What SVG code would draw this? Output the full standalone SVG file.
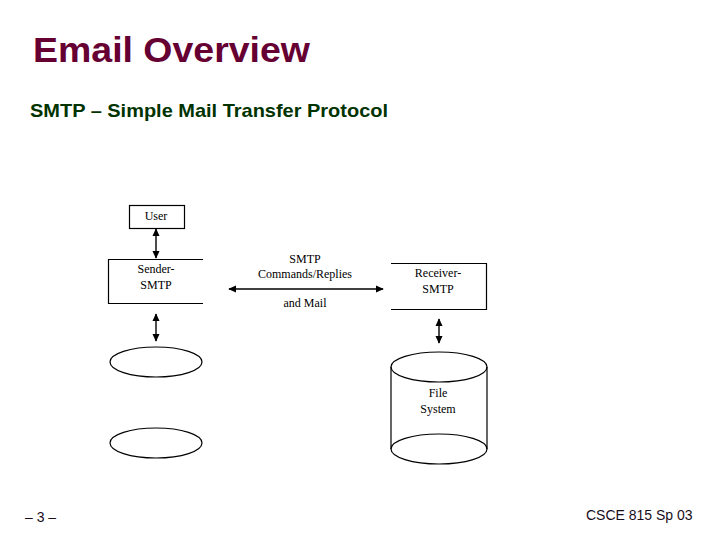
<svg xmlns="http://www.w3.org/2000/svg" width="720" height="540" viewBox="0 0 720 540">
<defs>
<marker id="ah" viewBox="0 0 10 10" refX="9" refY="5" markerWidth="8" markerHeight="8" orient="auto-start-reverse" markerUnits="userSpaceOnUse">
<path d="M0,0.5 L10,5 L0,9.5 Z" fill="#000"/>
</marker>
</defs>
<style>
.ln{stroke:#000;stroke-width:1.2;fill:none}
.bx{stroke:#000;stroke-width:1.2;fill:#fff}
.t{font-family:"Liberation Serif","Times New Roman",serif;font-size:12px;fill:#000;text-anchor:middle}
.ar{stroke:#000;stroke-width:1.4;fill:none;marker-start:url(#ah);marker-end:url(#ah)}
</style>
<rect width="720" height="540" fill="#fff"/>
<text x="33" y="62" font-family="Liberation Sans, Arial, sans-serif" font-weight="bold" font-size="35" fill="#660033" textLength="277" lengthAdjust="spacingAndGlyphs">Email Overview</text>
<text x="30" y="117" font-family="Liberation Sans, Arial, sans-serif" font-weight="bold" font-size="19" fill="#003300" textLength="358" lengthAdjust="spacingAndGlyphs">SMTP – Simple Mail Transfer Protocol</text>
<g id="user">
<rect class="bx" x="129.5" y="205.5" width="55" height="23"/>
<text class="t" x="156" y="220">User</text>
</g>
<g id="sender">
<path class="ln" d="M203,259.5 H108.5 V303.5 H203"/>
<text class="t" x="156" y="273">Sender-</text>
<text class="t" x="156" y="289">SMTP</text>
</g>
<g id="receiver">
<path class="ln" d="M391,263.5 H486.5 V309.5 H391"/>
<text class="t" x="438" y="277">Receiver-</text>
<text class="t" x="438" y="293">SMTP</text>
</g>
<g id="mailbox">
<ellipse class="ln" cx="156" cy="362" rx="46" ry="15"/>
<ellipse class="ln" cx="156" cy="443" rx="46" ry="15"/>
</g>
<g id="filesystem">
<path class="ln" d="M391,367 V449 M487,367 V449"/>
<ellipse class="ln" cx="439" cy="367" rx="48" ry="15"/>
<ellipse class="ln" cx="439" cy="449" rx="48" ry="15"/>
<text class="t" x="438" y="397">File</text>
<text class="t" x="438" y="413">System</text>
</g>
<g id="connectors">
<line class="ar" x1="156" y1="229" x2="156" y2="258"/>
<line class="ar" x1="229" y1="289" x2="383" y2="289"/>
<line class="ar" x1="156" y1="314" x2="156" y2="341"/>
<line class="ar" x1="439" y1="319" x2="439" y2="343"/>
<text class="t" x="305" y="263">SMTP</text>
<text class="t" x="305" y="278">Commands/Replies</text>
<text class="t" x="305" y="307">and Mail</text>
</g>
<text x="25" y="522" font-family="Liberation Sans, Arial, sans-serif" font-size="14" fill="#1a0d1a">– 3 –</text>
<text x="586" y="520" font-family="Liberation Sans, Arial, sans-serif" font-size="14" fill="#1a0d1a">CSCE 815 Sp 03</text>
</svg>
